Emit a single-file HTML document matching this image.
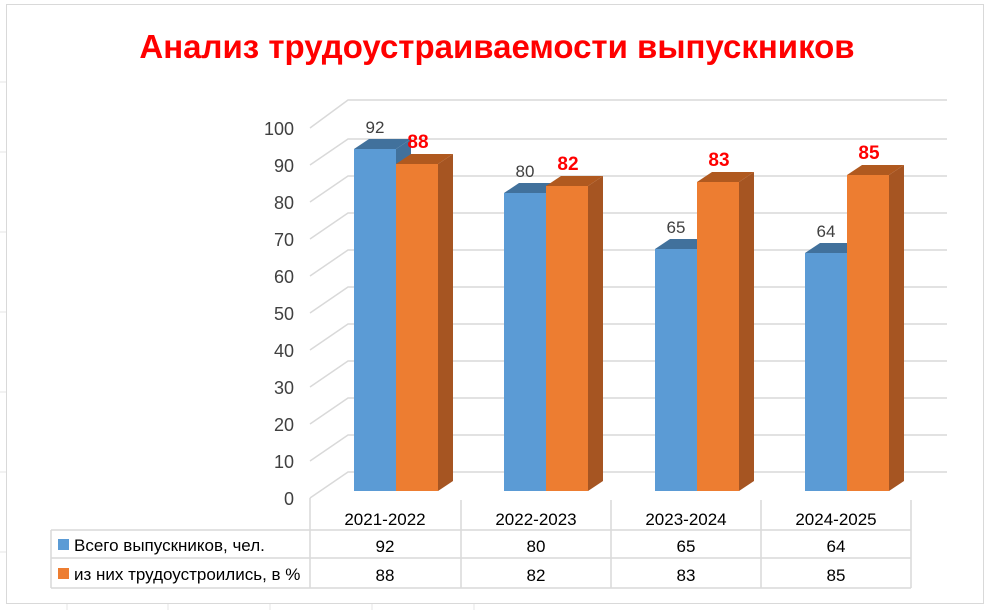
<!DOCTYPE html>
<html><head><meta charset="utf-8"><style>
html,body{margin:0;padding:0;background:#fff;}
svg{display:block;font-family:"Liberation Sans","DejaVu Sans",sans-serif;}
</style></head><body>
<svg width="990" height="610" viewBox="0 0 990 610" xmlns="http://www.w3.org/2000/svg">
<rect x="0" y="0" width="990" height="610" fill="#fff"/>
<g stroke="#e4e4e4" stroke-width="1">
<line x1="0" y1="82" x2="6" y2="82"/><line x1="0" y1="152" x2="6" y2="152"/><line x1="0" y1="232" x2="6" y2="232"/><line x1="0" y1="312" x2="6" y2="312"/><line x1="0" y1="392" x2="6" y2="392"/><line x1="0" y1="472" x2="6" y2="472"/><line x1="0" y1="552" x2="6" y2="552"/>
<line x1="67" y1="604" x2="67" y2="610"/><line x1="168" y1="604" x2="168" y2="610"/><line x1="270" y1="604" x2="270" y2="610"/><line x1="372" y1="604" x2="372" y2="610"/><line x1="474" y1="604" x2="474" y2="610"/>
</g>
<rect x="6.5" y="4.5" width="977" height="599" fill="#fff" stroke="#d9d9d9"/>
<text x="497" y="58" text-anchor="middle" font-size="33" font-weight="bold" fill="#ff0000">Анализ трудоустраиваемости выпускников</text>
<g stroke="#d9d9d9" stroke-width="1.5" fill="none">
<path d="M310 498 L348 472 L947 472"/>
<path d="M310 461 L348 435 L947 435"/>
<path d="M310 424 L348 398 L947 398"/>
<path d="M310 387 L348 361 L947 361"/>
<path d="M310 350 L348 324 L947 324"/>
<path d="M310 313 L348 287 L947 287"/>
<path d="M310 276 L348 250 L947 250"/>
<path d="M310 239 L348 213 L947 213"/>
<path d="M310 202 L348 176 L947 176"/>
<path d="M310 165 L348 139 L947 139"/>
<path d="M310 128 L348 100 L947 100"/>
</g>
<g font-size="18" fill="#404040" text-anchor="end">
<text x="294" y="505">0</text><text x="294" y="468">10</text><text x="294" y="431">20</text><text x="294" y="394">30</text><text x="294" y="357">40</text><text x="294" y="320">50</text><text x="294" y="283">60</text><text x="294" y="246">70</text><text x="294" y="209">80</text><text x="294" y="172">90</text><text x="294" y="135">100</text>
</g>
<!-- 2021 -->
<rect x="354" y="149" width="42" height="342" fill="#5b9bd5"/>
<polygon points="354,149 369,139 411,139 396,149" fill="#41719c"/>
<polygon points="396,149 411,139 411,481 396,491" fill="#41719c"/>
<rect x="396" y="164" width="42" height="327" fill="#ed7d31"/>
<polygon points="438,164 453,154 453,481 438,491" fill="#a65522"/>
<polygon points="396,164 411,154 453,154 438,164" fill="#b0591f"/>
<!-- 2022 -->
<rect x="504" y="193" width="42" height="298" fill="#5b9bd5"/>
<polygon points="504,193 519,183 561,183 546,193" fill="#41719c"/>
<rect x="546" y="186" width="42" height="305" fill="#ed7d31"/>
<polygon points="588,186 603,176 603,481 588,491" fill="#a65522"/>
<polygon points="546,186 561,176 603,176 588,186" fill="#b0591f"/>
<!-- 2023 -->
<rect x="655" y="249" width="42" height="242" fill="#5b9bd5"/>
<polygon points="655,249 670,239 712,239 697,249" fill="#41719c"/>
<rect x="697" y="182" width="42" height="309" fill="#ed7d31"/>
<polygon points="739,182 754,172 754,481 739,491" fill="#a65522"/>
<polygon points="697,182 712,172 754,172 739,182" fill="#b0591f"/>
<!-- 2024 -->
<rect x="805" y="253" width="42" height="238" fill="#5b9bd5"/>
<polygon points="805,253 820,243 862,243 847,253" fill="#41719c"/>
<rect x="847" y="175" width="42" height="316" fill="#ed7d31"/>
<polygon points="889,175 904,165 904,481 889,491" fill="#a65522"/>
<polygon points="847,175 862,165 904,165 889,175" fill="#b0591f"/>
<g font-size="17" fill="#404040" text-anchor="middle">
<text x="375" y="133">92</text><text x="525" y="177">80</text><text x="676" y="233">65</text><text x="826" y="237">64</text>
</g>
<g font-size="19" font-weight="bold" fill="#ff0000" text-anchor="middle">
<text x="418" y="148">88</text><text x="568" y="170">82</text><text x="719" y="166">83</text><text x="869" y="159">85</text>
</g>
<g stroke="#d9d9d9" stroke-width="1.5" fill="none">
<line x1="310" y1="498" x2="310" y2="588"/>
<line x1="461" y1="500" x2="461" y2="588"/>
<line x1="611" y1="500" x2="611" y2="588"/>
<line x1="761" y1="500" x2="761" y2="588"/>
<line x1="911" y1="500" x2="911" y2="588"/>
<line x1="51" y1="530" x2="911" y2="530"/>
<line x1="51" y1="558" x2="911" y2="558"/>
<line x1="51" y1="588" x2="911" y2="588"/>
<line x1="51" y1="530" x2="51" y2="588"/>
</g>
<g font-size="17" fill="#000" text-anchor="middle">
<text x="385" y="525">2021-2022</text><text x="536" y="525">2022-2023</text><text x="686" y="525">2023-2024</text><text x="836" y="525">2024-2025</text>
<text x="385" y="552">92</text><text x="536" y="552">80</text><text x="686" y="552">65</text><text x="836" y="552">64</text>
<text x="385" y="581">88</text><text x="536" y="581">82</text><text x="686" y="581">83</text><text x="836" y="581">85</text>
</g>
<rect x="58" y="539" width="11" height="11" fill="#5b9bd5"/>
<rect x="58" y="568" width="11" height="11" fill="#ed7d31"/>
<g font-size="17" fill="#000">
<text x="74" y="551">Всего выпускников, чел.</text>
<text x="74" y="580">из них трудоустроились, в %</text>
</g>
</svg>
</body></html>
